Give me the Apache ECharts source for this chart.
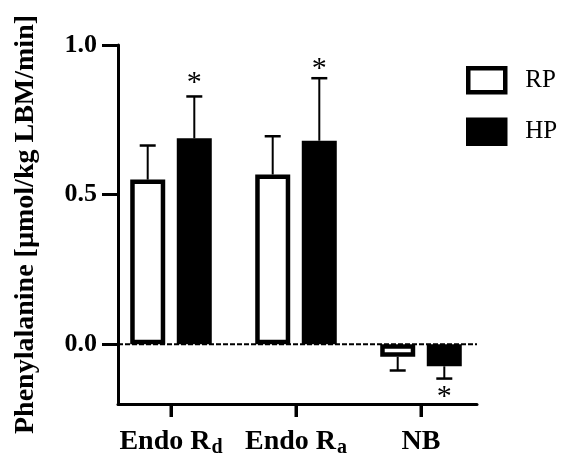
<!DOCTYPE html>
<html>
<head>
<meta charset="utf-8">
<script src="https://cdn.jsdelivr.net/npm/echarts@6/dist/echarts.min.js"></script>
<style>html,body{margin:0;padding:0;background:#fff}#c{width:566px;height:459px}</style>
</head>
<body>
<div id="c"></div>
<script>
// ---- data ----
var catMain = ['Endo R', 'Endo R', 'NB'];
var catSub = ['d', 'a', ''];
var seriesNames = ['RP', 'HP'];
var rpMean = [0.55, 0.567, -0.042];
var rpSD = [0.114, 0.128, 0.046];
var hpMean = [0.688, 0.68, -0.074];
var hpSD = [0.14, 0.209, 0.041];
var starCat = [0, 1, 2];          // HP bars marked *
var starVal = [0.89, 0.935, -0.16];
var yTicks = [0, 0.5, 1.0];
var catTicks = [0, 1, 2];

var FONT = 'Liberation Serif';
var BW = 35, HALF = 23.3;
// frame x-axis extent in category units (axis line runs a bit inside the band area)
var X_MIN = -0.424, X_MAX = 2.448;
var Y_MIN = -0.2, Y_MAX = 1.0;

var chart = echarts.init(document.getElementById('c'), null, {renderer: 'canvas'});

function errData(mean, sd) {
  return mean.map(function (m, i) { return [i, m, sd[i]]; });
}
function errRender(offset) {
  return function (params, api) {
    var x = api.value(0), m = api.value(1), s = api.value(2);
    var sign = m >= 0 ? 1 : -1;
    var p0 = api.coord([x, m]);
    var p1 = api.coord([x, m + sign * s]);
    var cx = p0[0] + offset;
    return {
      type: 'group',
      children: [
        {type: 'line', shape: {x1: cx, y1: p0[1], x2: cx, y2: p1[1]}, style: {stroke: '#000', lineWidth: 2}},
        {type: 'line', shape: {x1: cx - 8, y1: p1[1], x2: cx + 8, y2: p1[1]}, style: {stroke: '#000', lineWidth: 2.5}}
      ]
    };
  };
}

var option = {
  animation: false,
  backgroundColor: '#fff',
  grid: [
    {left: 108.5, right: 82.5, top: 45, bottom: 55},
    {left: 118, right: 89, top: 45, bottom: 55}
  ],
  xAxis: [
    {
      type: 'category', gridIndex: 0, data: catMain, show: false
    },
    {
      type: 'value', gridIndex: 1, min: X_MIN, max: X_MAX,
      axisLine: {show: true, onZero: false, lineStyle: {color: '#000', width: 3}},
      axisTick: {show: true, customValues: catTicks, length: 13, lineStyle: {color: '#000', width: 3}},
      axisLabel: {
        customValues: catTicks, margin: 24, color: '#000',
        formatter: function (v) {
          var i = Math.round(v);
          return '{m|' + catMain[i] + '}' + (catSub[i] ? '{s|' + catSub[i] + '}' : '');
        },
        rich: {
          m: {fontFamily: FONT, fontWeight: 'bold', fontSize: 28, color: '#000', verticalAlign: 'top', lineHeight: 30},
          s: {fontFamily: FONT, fontWeight: 'bold', fontSize: 20, color: '#000', verticalAlign: 'bottom', lineHeight: 20, padding: [24, 0, 0, 1]}
        }
      },
      splitLine: {show: false}
    }
  ],
  yAxis: [
    {type: 'value', gridIndex: 0, min: Y_MIN, max: Y_MAX, show: false, splitLine: {show: false}},
    {
      type: 'value', gridIndex: 1, min: Y_MIN, max: Y_MAX,
      axisLine: {show: true, onZero: false, lineStyle: {color: '#000', width: 3}},
      axisTick: {show: true, customValues: yTicks, length: 16, lineStyle: {color: '#000', width: 3}},
      axisLabel: {
        customValues: yTicks, margin: 21, color: '#000',
        fontFamily: FONT, fontWeight: 'bold', fontSize: 26,
        formatter: function (v) { return v.toFixed(1); }
      },
      splitLine: {show: false},
      name: 'Phenylalanine [µmol/kg LBM/min]',
      nameLocation: 'middle', nameGap: 78,
      nameTextStyle: {fontFamily: FONT, fontWeight: 'bold', fontSize: 28, color: '#000'}
    }
  ],
  legend: {
    orient: 'vertical', left: 466, top: 66, padding: 0,
    itemWidth: 37, itemHeight: 24, itemGap: 23,
    icon: 'rect',
    data: seriesNames,
    itemStyle: {borderWidth: 4.5, borderColor: '#000'},
    textStyle: {fontFamily: FONT, fontSize: 25, color: '#000', padding: [0, 0, 0, 15]}
  },
  series: [
    {
      name: 'RP', type: 'bar', xAxisIndex: 0, yAxisIndex: 0, data: rpMean,
      barWidth: BW, barGap: '33%',
      itemStyle: {color: '#fff', borderColor: '#000', borderWidth: 4.5},
      z: 2
    },
    {
      name: 'HP', type: 'bar', xAxisIndex: 0, yAxisIndex: 0, data: hpMean,
      barWidth: BW, barGap: '33%',
      itemStyle: {color: '#000', borderColor: '#000', borderWidth: 4.5},
      z: 2
    },
    {
      type: 'custom', xAxisIndex: 0, yAxisIndex: 0, data: errData(rpMean, rpSD),
      renderItem: errRender(-HALF), z: 1, silent: true
    },
    {
      type: 'custom', xAxisIndex: 0, yAxisIndex: 0, data: errData(hpMean, hpSD),
      renderItem: errRender(HALF), z: 1, silent: true
    },
    {
      type: 'custom', xAxisIndex: 0, yAxisIndex: 0,
      data: starCat.map(function (c, i) { return [c, starVal[i]]; }),
      renderItem: function (params, api) {
        var p = api.coord([api.value(0), api.value(1)]);
        return {
          type: 'text', x: p[0] + HALF, y: p[1] + 5,
          style: {text: '*', fontFamily: FONT, fontSize: 30, fill: '#000', align: 'center', verticalAlign: 'middle'}
        };
      },
      z: 3, silent: true
    },
    {
      // category tick marks below the x axis line
      type: 'custom', xAxisIndex: 1, yAxisIndex: 1, clip: false,
      data: catTicks.map(function (c) { return [c, Y_MIN]; }),
      renderItem: function (params, api) {
        var p = api.coord([api.value(0), api.value(1)]);
        return {type: 'line', shape: {x1: p[0], y1: p[1], x2: p[0], y2: p[1] + 13},
          style: {stroke: '#000', lineWidth: 3}};
      },
      z: 5, silent: true
    },
    {
      type: 'line', xAxisIndex: 1, yAxisIndex: 1,
      data: [[X_MIN, 0], [X_MAX, 0]], symbol: 'none',
      lineStyle: {color: '#000', width: 2, type: [5, 2]},
      z: 5, silent: true
    }
  ]
};
chart.setOption(option);
</script>
</body>
</html>
